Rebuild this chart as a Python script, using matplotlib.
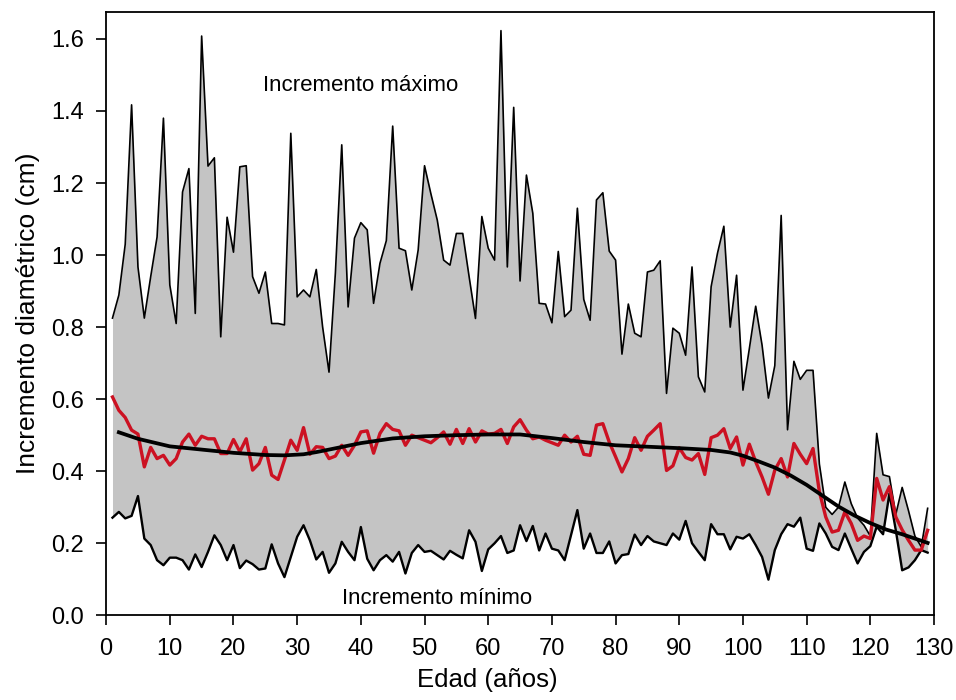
import numpy as np
import matplotlib
matplotlib.use('Agg')
import matplotlib.pyplot as plt

plt.rcParams['font.family'] = ['Liberation Sans', 'DejaVu Sans']

# Edad (años) de cada anillo
edad = np.arange(1, 130)

# Incremento diametrico maximo por edad (cm)
inc_max = [
    0.825, 0.889, 1.03, 1.417, 0.967, 0.825, 0.94, 1.05, 1.38, 0.917,
    0.81, 1.175, 1.24, 0.838, 1.608, 1.247, 1.27, 0.773, 1.105, 1.008,
    1.245, 1.248, 0.94, 0.894, 0.953, 0.81, 0.81, 0.806, 1.338, 0.884,
    0.903, 0.884, 0.96, 0.80, 0.675, 0.95, 1.306, 0.856, 1.047, 1.09,
    1.07, 0.866, 0.977, 1.04, 1.358, 1.019, 1.012, 0.903, 1.014, 1.248,
    1.17, 1.097, 0.986, 0.972, 1.06, 1.06, 0.94, 0.824, 1.107, 1.019,
    0.986, 1.623, 0.967, 1.41, 0.928, 1.222, 1.116, 0.866, 0.864, 0.812,
    1.01, 0.829, 0.847, 1.13, 0.877, 0.819, 1.153, 1.173, 1.011, 0.986,
    0.725, 0.864, 0.783, 0.773, 0.953, 0.958, 0.984, 0.616, 0.797, 0.783,
    0.722, 0.967, 0.662, 0.62, 0.912, 1.005, 1.08, 0.80, 0.944, 0.625,
    0.74, 0.858, 0.75, 0.603, 0.693, 1.11, 0.515, 0.705, 0.655, 0.68,
    0.68, 0.42, 0.30, 0.28, 0.30, 0.37, 0.31, 0.27, 0.25, 0.22,
    0.505, 0.39, 0.385, 0.28, 0.355, 0.29, 0.22, 0.19, 0.297,
]

# Incremento diametrico minimo por edad (cm)
inc_min = [
    0.271, 0.287, 0.269, 0.276, 0.331, 0.213, 0.195, 0.153, 0.139, 0.16,
    0.16, 0.153, 0.127, 0.169, 0.134, 0.176, 0.222, 0.195, 0.153, 0.195,
    0.131, 0.152, 0.142, 0.127, 0.13, 0.197, 0.144, 0.106, 0.162, 0.218,
    0.25, 0.208, 0.155, 0.176, 0.118, 0.144, 0.204, 0.176, 0.153, 0.245,
    0.157, 0.125, 0.153, 0.167, 0.149, 0.176, 0.116, 0.173, 0.195, 0.176,
    0.179, 0.167, 0.155, 0.179, 0.168, 0.158, 0.236, 0.204, 0.123, 0.183,
    0.2, 0.22, 0.173, 0.18, 0.25, 0.206, 0.248, 0.18, 0.227, 0.185,
    0.18, 0.153, 0.222, 0.292, 0.185, 0.227, 0.173, 0.173, 0.205, 0.144,
    0.167, 0.17, 0.224, 0.195, 0.22, 0.205, 0.2, 0.195, 0.227, 0.21,
    0.262, 0.2, 0.176, 0.153, 0.253, 0.225, 0.225, 0.183, 0.218, 0.213,
    0.225, 0.195, 0.162, 0.099, 0.181, 0.225, 0.253, 0.246, 0.271, 0.185,
    0.179, 0.255, 0.227, 0.19, 0.181, 0.227, 0.185, 0.144, 0.176, 0.192,
    0.246, 0.225, 0.338, 0.236, 0.125, 0.133, 0.153, 0.181, 0.174,
]

# Incremento medio por edad (cm)
inc_medio = [
    0.606, 0.569, 0.549, 0.514, 0.503, 0.412, 0.466, 0.435, 0.444, 0.417,
    0.435, 0.481, 0.503, 0.472, 0.497, 0.49, 0.49, 0.449, 0.449, 0.488,
    0.454, 0.49, 0.403, 0.421, 0.466, 0.389, 0.377, 0.431, 0.486, 0.458,
    0.521, 0.447, 0.468, 0.466, 0.435, 0.442, 0.472, 0.444, 0.472, 0.509,
    0.512, 0.45, 0.505, 0.532, 0.516, 0.512, 0.472, 0.5, 0.493, 0.486,
    0.479, 0.493, 0.509, 0.475, 0.516, 0.477, 0.518, 0.481, 0.512, 0.503,
    0.505, 0.516, 0.477, 0.523, 0.543, 0.514, 0.49, 0.495, 0.486, 0.479,
    0.472, 0.5, 0.481, 0.497, 0.447, 0.444, 0.528, 0.532, 0.481, 0.44,
    0.398, 0.435, 0.493, 0.458, 0.497, 0.514, 0.532, 0.402, 0.415, 0.465,
    0.438, 0.431, 0.449, 0.391, 0.493, 0.5, 0.518, 0.463, 0.495, 0.417,
    0.475, 0.426, 0.384, 0.336, 0.403, 0.435, 0.384, 0.477, 0.447, 0.421,
    0.463, 0.343, 0.273, 0.231, 0.236, 0.287, 0.255, 0.208, 0.22, 0.213,
    0.38, 0.32, 0.357, 0.273, 0.237, 0.208, 0.181, 0.181, 0.236,
]

# Curva de ajuste del incremento medio
edad_ajuste = [2, 5, 10, 15, 20, 25, 28, 31, 33, 35, 40, 45, 50, 55, 60, 65,
               70, 75, 80, 85, 90, 95, 98, 100, 102.5, 105, 107.5, 110,
               112.5, 115, 117.5, 120, 122.5, 125, 127, 129]
inc_ajuste = [0.508, 0.49, 0.469, 0.46, 0.451, 0.445, 0.444, 0.447, 0.453,
              0.46, 0.478, 0.491, 0.497, 0.5, 0.502, 0.502, 0.492, 0.481,
              0.472, 0.468, 0.464, 0.459, 0.452, 0.443, 0.427, 0.41, 0.388,
              0.362, 0.332, 0.302, 0.277, 0.256, 0.238, 0.225, 0.213, 0.201]

fig = plt.figure(figsize=(9.56, 7.0), dpi=100)
ax = fig.add_axes([0.111, 0.121, 0.866, 0.862])

ax.fill_between(edad, inc_min, inc_max, color='#c4c4c4', linewidth=0, zorder=1)
ax.plot(edad, inc_max, color='black', lw=1.2, zorder=2)
ax.plot(edad, inc_min, color='black', lw=1.7, zorder=2)
ax.plot(edad, inc_medio, color='#cc1122', lw=2.4, zorder=3)
ax.plot(edad_ajuste, inc_ajuste, color='black', lw=2.7, zorder=4)

ax.text(40, 1.47, 'Incremento máximo', fontsize=16, ha='center', va='center')
ax.text(52, 0.048, 'Incremento mínimo', fontsize=16, ha='center', va='center')

ax.set_xlim(0, 130)
ax.set_ylim(0, 1.675)
ax.set_xticks(np.arange(0, 131, 10))
ax.set_yticks(np.arange(0, 1.61, 0.2))
ax.set_yticklabels([f'{v:.1f}' for v in np.arange(0, 1.61, 0.2)])
ax.tick_params(direction='out', length=7, width=1.2, labelsize=17, pad=9)
for s in ax.spines.values():
    s.set_linewidth(1.3)

ax.set_xlabel('Edad (años)', fontsize=18.5)
ax.xaxis.set_label_coords(0.46, -0.088)
ax.set_ylabel('Incremento diamétrico (cm)', fontsize=19)
ax.yaxis.set_label_coords(-0.08, 0.5)

fig.savefig('out.png', dpi=100)
